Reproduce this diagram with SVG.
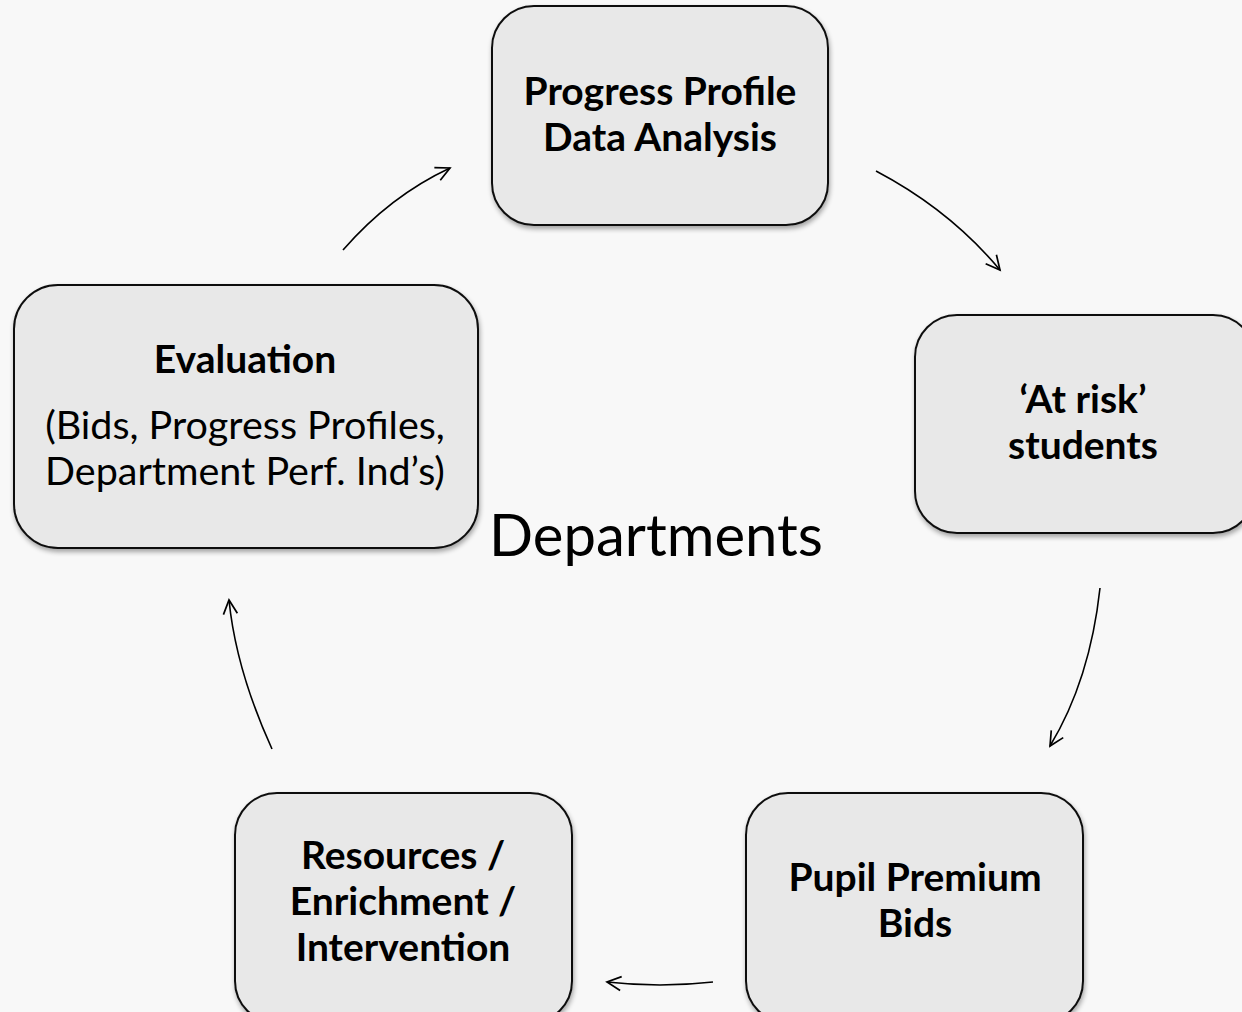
<svg xmlns="http://www.w3.org/2000/svg" width="1242" height="1012" viewBox="0 0 1242 1012">
<defs>
<filter id="sh" x="-10%" y="-10%" width="120%" height="120%">
<feGaussianBlur in="SourceAlpha" stdDeviation="2.5"/>
<feOffset dx="1" dy="3" result="b"/>
<feComponentTransfer><feFuncA type="linear" slope="0.35"/></feComponentTransfer>
<feMerge><feMergeNode/><feMergeNode in="SourceGraphic"/></feMerge>
</filter>
<marker id="ah" viewBox="-16 -10 20 20" markerWidth="20" markerHeight="20" refX="0" refY="0" orient="auto" markerUnits="userSpaceOnUse">
<path d="M-14,-7 L0,0 L-14,7" fill="none" stroke="#000" stroke-width="1.7"/>
</marker>
<style>
.box{fill:#e8e8e8;stroke:#111;stroke-width:2;filter:url(#sh)}
.t{font-family:Lato,"Open Sans",sans-serif;fill:#000;text-anchor:middle}
.b{font-weight:bold;font-size:39px}
.r{font-size:39.5px}
.c{fill:none;stroke:#000;stroke-width:1.6;marker-end:url(#ah)}
</style>
</defs>
<rect width="1242" height="1012" fill="#f8f8f8"/>
<g id="connectors">
<path class="c" d="M343,250 Q390,196 450,168"/>
<path class="c" d="M876,171 Q950,210 1000,270"/>
<path class="c" d="M1100,588 Q1090,680 1050,746"/>
<path class="c" d="M713,982 Q660,988 607,982"/>
<path class="c" d="M272,749 Q236,670 229,600"/>
</g>
<g id="node-progress">
<rect class="box" x="492" y="6" width="336" height="219" rx="42"/>
<text class="t b" x="660" y="105">Progress Profile</text>
<text class="t b" x="660" y="151">Data Analysis</text>
</g>
<g id="node-atrisk">
<rect class="box" x="915" y="315" width="340" height="218" rx="42"/>
<text class="t b" x="1083" y="413">‘At risk’</text>
<text class="t b" x="1083" y="459">students</text>
</g>
<g id="node-bids">
<rect class="box" x="746" y="793" width="337" height="230" rx="42"/>
<text class="t b" x="915" y="891">Pupil Premium</text>
<text class="t b" x="915" y="937">Bids</text>
</g>
<g id="node-resources">
<rect class="box" x="235" y="793" width="337" height="230" rx="42"/>
<text class="t b" x="403" y="869">Resources /</text>
<text class="t b" x="403" y="915">Enrichment /</text>
<text class="t b" x="403" y="961">Intervention</text>
</g>
<g id="node-evaluation">
<rect class="box" x="14" y="285" width="464" height="263" rx="44"/>
<text class="t b" x="245" y="373">Evaluation</text>
<text class="t r" x="245" y="439">(Bids, Progress Profiles,</text>
<text class="t r" x="245" y="485">Department Perf. Ind’s)</text>
</g>
<g id="label-departments">
<text class="t" x="656" y="556" style="font-size:58px">Departments</text>
</g>
</svg>
